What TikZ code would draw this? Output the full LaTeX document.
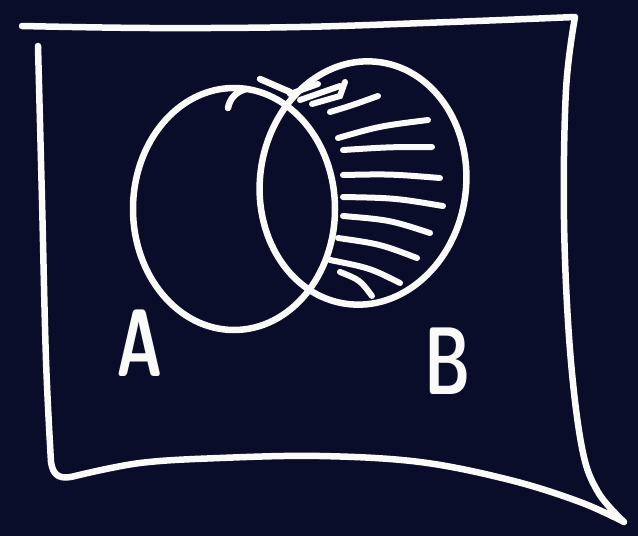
\documentclass[tikz,border=0pt]{standalone}
\usetikzlibrary{calc}
\definecolor{board}{RGB}{9,13,42}
\definecolor{chalk}{RGB}{250,250,248}
\begin{document}
\begin{tikzpicture}[x=1pt,y=-1pt,
  pen/.style={draw=chalk,line width=6.5pt,line cap=round,line join=round},
  hatchline/.style={draw=chalk,line width=6pt,line cap=round},
  letter/.style={text=chalk,font=\sffamily\bfseries\fontsize{96}{96}\selectfont,inner sep=0pt,xscale=0.66}]
\fill[board] (0,0) rectangle (638,536);
\useasboundingbox (0,0) rectangle (638,536);
% frame
\draw[pen] plot[smooth,tension=0.6] coordinates{(38,46) (42,200) (46,360) (51,462)}
  .. controls (53,476) and (60,480) .. (75,476)
  plot[smooth,tension=0.6] coordinates{(75,476) (140,463) (220,458) (320,456) (420,462) (510,480) (580,502) (624,522)}
  -- (624,522) plot[smooth,tension=0.6] coordinates{(624,522) (598,492) (582,448) (570,350) (564,220) (566,90) (575,17)}
  -- (575,17) plot[smooth,tension=0.6] coordinates{(575,17) (450,22) (300,27) (150,28) (22,26)};
% circle A
\draw[pen] (234,209) ellipse[x radius=101,y radius=121];
\draw[pen] (228,108) .. controls (230,98) and (236,92) .. (246,89);
% circle B
\draw[pen,rotate around={-8:(363,183)}] (363,183) ellipse[x radius=103,y radius=122];
\draw[pen] (260,79) -- (290,92);
% hatching
\draw[hatchline] (290,94) -- (318,84);
\draw[hatchline] (300,100) -- (340,86);
\draw[hatchline] (312,104) -- (340,96) -- (345,82);
\draw[hatchline] (330,112) .. controls (350,106) .. (378,96);
\draw[hatchline] (338,138) .. controls (380,126) .. (428,120);
\draw[hatchline] (343,150) .. controls (390,147) .. (432,147);
\draw[hatchline] (343,175) .. controls (390,174) .. (440,178);
\draw[hatchline] (343,197) .. controls (395,198) .. (443,206);
\draw[hatchline] (343,216) .. controls (390,220) .. (430,233);
\draw[hatchline] (338,238) .. controls (380,244) .. (417,258);
\draw[hatchline] (330,260) .. controls (370,268) .. (400,283);
\draw[hatchline] (340,272) .. controls (360,280) .. (372,296);
% labels
\node[letter] (labA) at (140,343) {A};
\node[letter] (labB) at (448,361) {B};
\end{tikzpicture}
\end{document}
